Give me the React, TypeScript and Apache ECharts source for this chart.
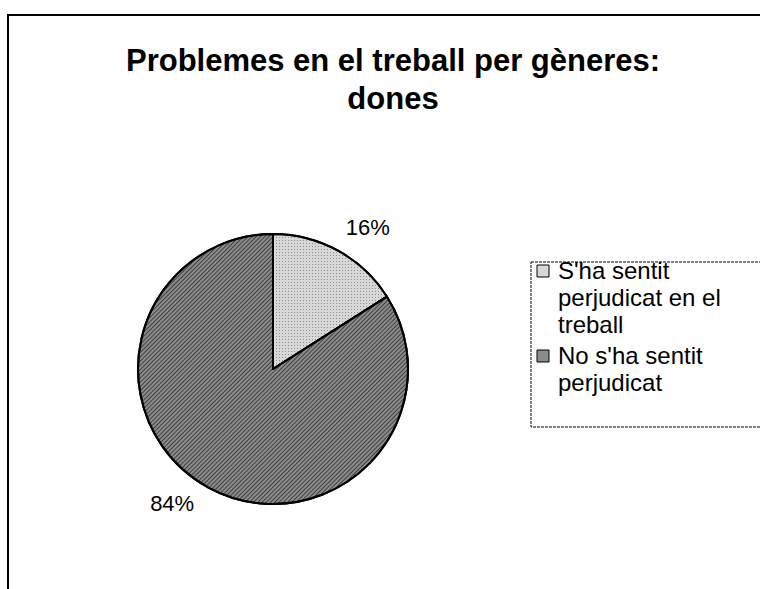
import React, { useEffect, useRef } from "react";
import * as echarts from "echarts";

const titleLines = ["Problemes en el treball per gèneres:", "dones"];
const categories = ["S'ha sentit perjudicat en el treball", "No s'ha sentit perjudicat"];
const legendLines = [["S'ha sentit", "perjudicat en el", "treball"], ["No s'ha sentit", "perjudicat"]];
const values = [16, 84];

const FONT = "'Liberation Sans', Arial, sans-serif";
const sliceColors = ["#d8d8d8", "#8c8c8c"];
const labelOffsets = [[-3, -13], [-3, 6]];

export default function App() {
  const ref = useRef<HTMLDivElement>(null);
  useEffect(() => {
    document.body.style.margin = "0";
    if (!ref.current) return;
    const chart = echarts.init(ref.current, undefined, { renderer: "svg" });

    const legendGraphics: any[] = [];
    let y = 257;
    const LH = 27;
    legendLines.forEach((lines, i) => {
      legendGraphics.push({
        type: "rect",
        shape: { x: 537, y: y + 8, width: 12, height: 12 },
        style: { fill: sliceColors[i], stroke: "#000", lineWidth: 1 },
      });
      legendGraphics.push({
        type: "text",
        x: 558,
        y: y,
        style: {
          text: lines.join("\n"),
          font: `24px ${FONT}`,
          lineHeight: LH,
          fill: "#000",
        },
      });
      y += lines.length * LH + 4;
    });

    chart.setOption({
      animation: false,
      backgroundColor: "#fff",
      title: {
        text: titleLines.join("\n"),
        left: 388,
        top: 36,
        textAlign: "center",
        textStyle: {
          fontFamily: FONT,
          fontSize: 31,
          fontWeight: "bold",
          lineHeight: 38,
          color: "#000",
        },
      },
      graphic: [
        { type: "line", shape: { x1: 7, y1: 15, x2: 760, y2: 15 }, style: { stroke: "#000", lineWidth: 2 } },
        { type: "line", shape: { x1: 8, y1: 15, x2: 8, y2: 589 }, style: { stroke: "#000", lineWidth: 2 } },
        {
          type: "rect",
          shape: { x: 531, y: 262, width: 240, height: 165 },
          style: { fill: "none", stroke: "#000", lineWidth: 1, lineDash: [3, 1] },
        },
        ...legendGraphics,
      ],
      series: [
        {
          type: "pie",
          center: [273, 369],
          radius: 135,
          startAngle: 90,
          clockwise: true,
          data: categories.map((name, i) => ({
            name,
            value: values[i],
            label: { offset: labelOffsets[i] },
            itemStyle: {
              color: sliceColors[i],
              decal:
                i === 0
                  ? { symbol: "rect", symbolSize: 1, dashArrayX: [1, 2], dashArrayY: [1, 2], color: "rgba(0,0,0,0.35)" }
                  : { symbol: "rect", symbolSize: 1, dashArrayX: [1, 0], dashArrayY: [1, 2], rotation: -Math.PI / 4, color: "rgba(0,0,0,0.55)" },
            },
          })),
          itemStyle: { borderColor: "#000", borderWidth: 2 },
          label: {
            show: true,
            position: "outside",
            formatter: "{d}%",
            fontFamily: FONT,
            fontSize: 22,
            color: "#000",
          },
          labelLine: { show: false, length: 12, length2: 0 },
        },
      ],
    });
    return () => chart.dispose();
  }, []);
  return <div ref={ref} style={{ width: 760, height: 589 }} />;
}
